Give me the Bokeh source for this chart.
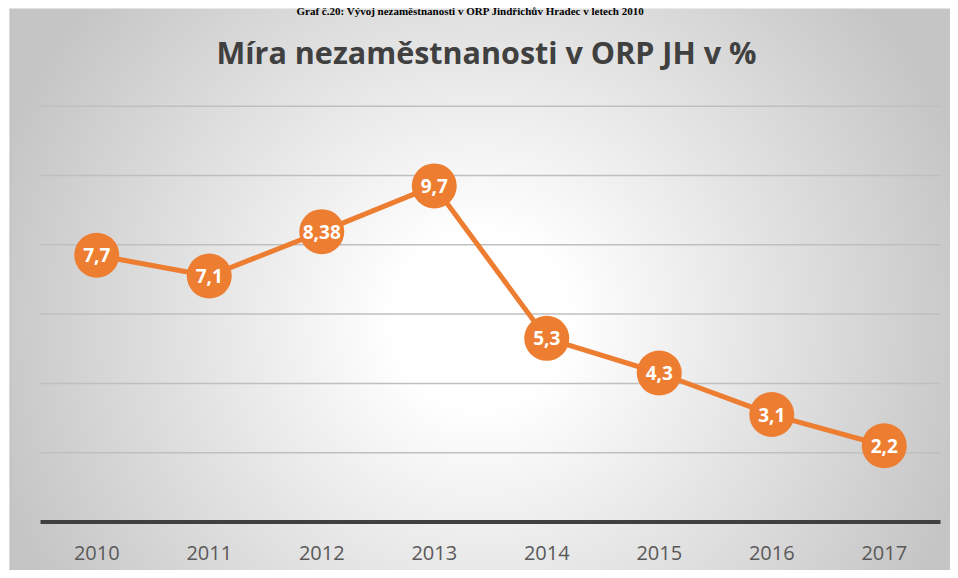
import numpy as np
from bokeh.plotting import figure
from bokeh.models import Label
from bokeh.core.properties import value
from bokeh.embed import file_html
from bokeh.resources import INLINE

# ---- data ----
years = ["2010", "2011", "2012", "2013", "2014", "2015", "2016", "2017"]
rates = [7.7, 7.1, 8.38, 9.7, 5.3, 4.3, 3.1, 2.2]
rate_labels = ["7,7", "7,1", "8,38", "9,7", "5,3", "4,3", "3,1", "2,2"]
grid_values = [2, 4, 6, 8, 10, 12]
title_text = "Míra nezaměstnanosti v ORP JH v %"
caption_text = "Graf č.20: Vývoj nezaměstnanosti v ORP Jindřichův Hradec v letech 2010"

ORANGE = "#ED7D31"

# ---- layout (picture pixels -> data) ----
W, H = 950, 570
LEFT, TOP = 0, 0
Y0_PX, PX_PER_UNIT = 521.5, 34.65
X0_PX, PX_PER_CAT = 96.25, 112.5

def xd(px):
    return (px - X0_PX) / PX_PER_CAT

def yd(py):
    return (Y0_PX - py) / PX_PER_UNIT

x_start, x_end = xd(LEFT), xd(LEFT + W)
y_start, y_end = yd(TOP + H), yd(TOP)

p = figure(width=W, height=H, output_backend="svg", toolbar_location=None,
           x_range=(x_start, x_end), y_range=(y_start, y_end),
           min_border=0, min_border_left=0, min_border_right=0,
           min_border_top=0, min_border_bottom=0)
p.xaxis.visible = False
p.yaxis.visible = False
p.grid.visible = False
p.outline_line_color = None
p.background_fill_color = "white"
p.border_fill_color = "white"

# ---- radial gradient chart-area background ----
PL, PT, PR, PB = 9, 8, LEFT + W, TOP + H
pw, ph = PR - PL, PB - PT
cols = np.arange(pw) + PL + 0.5
rows_py = PB - (np.arange(ph) + 0.5)
PX, PY = np.meshgrid(cols, rows_py)
d = np.sqrt((PX - 480.0) ** 2 + (PY - 320.0) ** 2)
t = np.clip((d - 90.0) / 420.0, 0, 1)
g = np.clip(255 - 58 * t, 0, 255)
g[:, 0] = np.minimum(g[:, 0], 188)
g = g.astype(np.uint32)
img = ((255 << 24) | (g << 16) | (g << 8) | g).astype(np.uint32)
p.image_rgba(image=[img], x=xd(PL), y=yd(PB), dw=xd(PR) - xd(PL), dh=yd(PT) - yd(PB))

# ---- document caption above the chart ----
p.text([xd(470)], [yd(10)], text=[caption_text], text_align="center",
       text_baseline="alphabetic", text_color="black",
       text_font=value("Liberation Serif"), text_font_style="bold",
       text_font_size="11px")

# ---- gridlines and axis line ----
n = len(years)
p.segment(x0=[-0.5] * len(grid_values), x1=[n - 0.5] * len(grid_values),
          y0=grid_values, y1=grid_values, line_color="#BFBFBF", line_width=1.5)
p.segment(x0=[-0.5], x1=[n - 0.5], y0=[0], y1=[0], line_color="#404040", line_width=4)

# ---- series ----
xs = list(range(n))
p.line(xs, rates, line_color=ORANGE, line_width=5)
p.scatter(xs, rates, size=45, fill_color=ORANGE, line_color=None)
p.text(xs, rates, text=rate_labels, text_align="center", text_baseline="middle",
       text_color="white", text_font=value("Open Sans"), text_font_style="bold",
       text_font_size="19px")

# ---- category labels ----
p.text(xs, [yd(552.5)] * n, text=years, text_align="center", text_baseline="middle",
       text_color="#595959", text_font=value("Open Sans"), text_font_size="20px")

# ---- title ----
p.add_layout(Label(x=xd(486), y=yd(51), text=title_text, text_align="center",
                   text_baseline="middle", text_color="#404040",
                   text_font="Open Sans", text_font_style="bold",
                   text_font_size="30.5px"))

open("out.html", "w").write(file_html(p, INLINE))
